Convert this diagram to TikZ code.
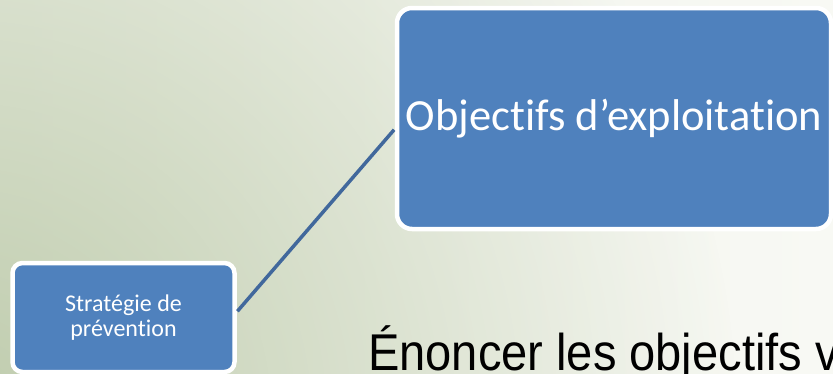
\documentclass[tikz,border=0pt]{standalone}
\usepackage{fontspec}
\usepackage{graphicx}
\newfontfamily\carlito[Ligatures=NoCommon]{Carlito}
\newfontfamily\liberation{Liberation Sans}
\usetikzlibrary{fadings}
\definecolor{boxblue}{HTML}{4F81BD}
\definecolor{linkblue}{HTML}{41689C}
\definecolor{bglight}{HTML}{F8F9F4}
\definecolor{bgmid}{HTML}{EEF1E8}
\definecolor{bgdark}{HTML}{BFCCAD}
\tikzfading[name=greenglow, inner color=transparent!0, outer color=transparent!100]
\tikzset{box/.style={draw=white, line width=4.5pt, fill=boxblue, text=white, align=center, inner sep=0pt}}

\begin{document}
\begin{tikzpicture}[x=1pt, y=-1pt]
    \useasboundingbox (0,0) rectangle (833,373);
    \clip (0,0) rectangle (833,373);
    % background
    \shade[left color=bgmid, right color=bglight] (0,0) rectangle (833,373);
    \fill[bgdark, path fading=greenglow] (-40,420) circle (780);
    % boxes
    \node[box, minimum width=434pt, minimum height=221pt, rounded corners=15pt,
          font=\carlito\fontsize{44.5}{50}\selectfont] (goals) at (614,118.5) {Objectifs d’exploitation};
    \node[box, minimum width=222pt, minimum height=109pt, rounded corners=10pt,
          font=\carlito\fontsize{24}{25}\selectfont] (strategy) at (123.5,317.5) {Stratégie de\\prévention};
    \draw[linkblue, line width=3.5pt, shorten <=1pt, shorten >=1pt]
        ([yshift=5.5pt]strategy.east) -- ([yshift=-10.5pt]goals.west);
    % slide text
    \node[anchor=base west, inner sep=0pt, font=\liberation\fontsize{51.7}{60}\selectfont] (task) at (368,370)
        {\scalebox{0.91}[1]{Énoncer les objectifs v}};
\end{tikzpicture}
\end{document}
